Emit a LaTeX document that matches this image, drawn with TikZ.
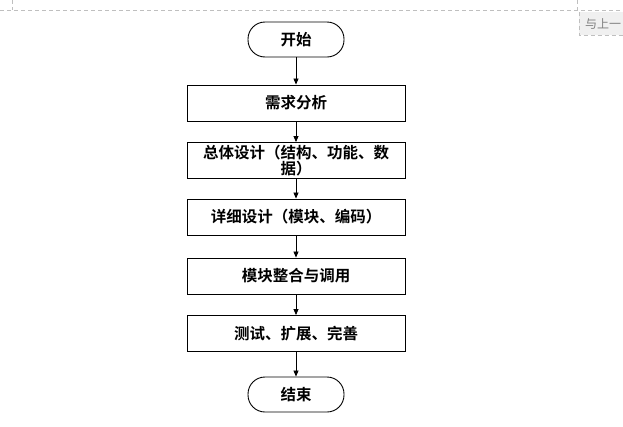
\documentclass[tikz,border=0pt]{standalone}
\usepackage{fontspec}
\newfontfamily\cjk{Noto Sans CJK SC}[BoldFont={Noto Sans CJK SC Bold}]
\usetikzlibrary{arrows.meta,positioning}
\tikzset{
  proc/.style={draw=black, line width=0.9pt, minimum width=218pt, minimum height=36pt, inner sep=0pt, font=\cjk\bfseries\fontsize{15.5}{17.5}\selectfont, align=center},
  term/.style={draw=black, line width=0.9pt, rounded corners=17pt, minimum width=96pt, minimum height=35pt, inner sep=0pt, font=\cjk\bfseries\fontsize{15.5}{17.5}\selectfont},
  flow/.style={line width=0.8pt, -{Triangle[length=6pt,width=5pt]}},
  guide/.style={draw=black!25, dashed, dash pattern=on 4pt off 3pt, line width=0.8pt}
}
\begin{document}
\begin{tikzpicture}[x=1pt,y=-1pt]
\useasboundingbox (0,0) rectangle (623,426);
% header guides
\draw[guide] (0,10) -- (623,10);
\draw[guide] (12,0) -- (12,10);
\draw[guide] (577,0) -- (577,10);
\begin{scope}
\clip (570,0) rectangle (623,426);
\node[fill=black!6, draw=none, minimum width=50pt, minimum height=23pt, anchor=north west, inner sep=0pt] (hdr) at (579,12) {};
\draw[guide] (hdr.north west) -- (hdr.south west) -- (hdr.south east);
\end{scope}
\node[anchor=west, inner sep=0pt, text=black!50, font=\cjk\fontsize{12}{14}\selectfont] (hdrtxt) at (585,24) {与上一};
% flow
\node[term] (start) at (296,39.5) {开始};
\node[proc] (a) at (296,103) {需求分析};
\node[proc] (b) at (296,160.5) {总体设计（结构、功能、数\\[-1pt]据）};
\node[proc] (c) at (296,217) {详细设计（模块、编码）};
\node[proc] (d) at (296,276) {模块整合与调用};
\node[proc] (e) at (296,333.5) {测试、扩展、完善};
\node[term] (end) at (296,394.5) {结束};
\draw[flow] (start) -- (a);
\draw[flow] (a) -- (b);
\draw[flow] (b) -- (c);
\draw[flow] (c) -- (d);
\draw[flow] (d) -- (e);
\draw[flow] (e) -- (end);
\end{tikzpicture}
\end{document}
